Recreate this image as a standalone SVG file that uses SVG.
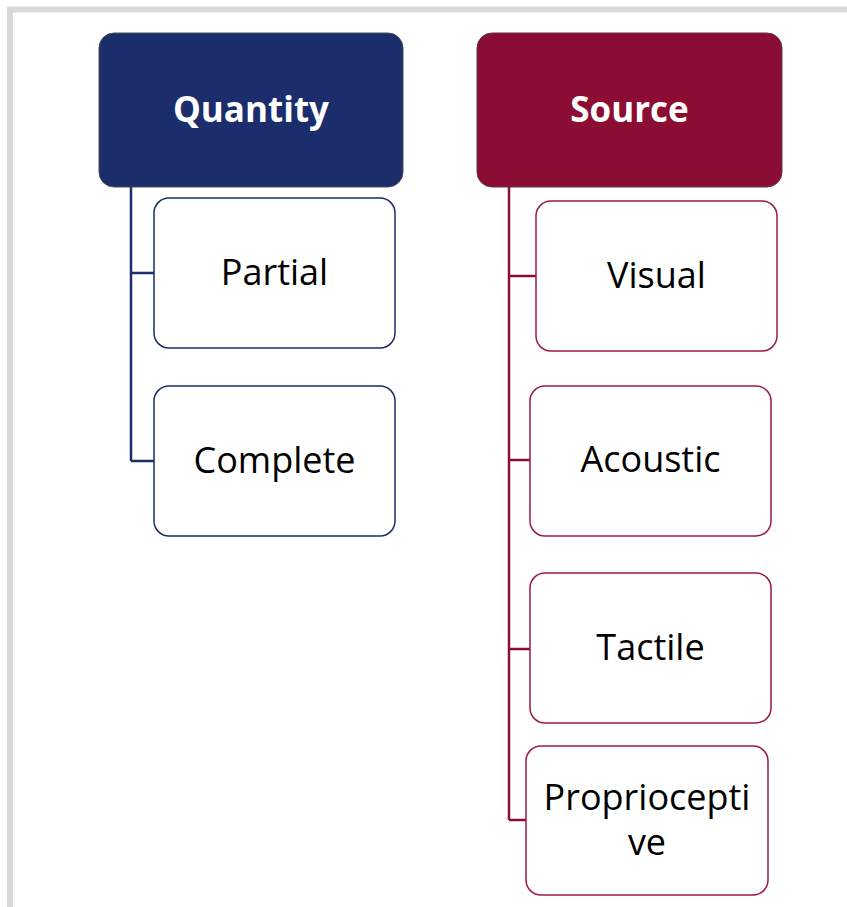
<svg xmlns="http://www.w3.org/2000/svg" width="847" height="907" viewBox="0 0 847 907">
  <style>
    .frame { fill: none; stroke: #d9d9d9; stroke-width: 6; }
    .head-q { fill: #1b2d6b; stroke: #4a4a5a; stroke-width: 1; }
    .head-s { fill: #8c0d33; stroke: #5a3a44; stroke-width: 1; }
    .child-q { fill: #ffffff; stroke: #1b2d6b; stroke-width: 1.5; }
    .child-s { fill: #ffffff; stroke: #9c1a44; stroke-width: 1.5; }
    .head-text { font-family: "Open Sans", "Noto Sans", sans-serif; font-weight: bold; font-size: 35px; fill: #ffffff; text-anchor: middle; }
    .child-text { font-family: "Open Sans", "Noto Sans", sans-serif; font-size: 36px; fill: #000000; text-anchor: middle; }
    .conn-q { fill: none; stroke: #1b2d6b; stroke-width: 2.5; }
    .conn-s { fill: none; stroke: #8c0d33; stroke-width: 2.5; }
  </style>

  <rect x="0" y="0" width="847" height="907" fill="#ffffff"/>
  <!-- outer frame -->
  <path class="frame" d="M10 907 V9.5 H847"/>

  <!-- connectors -->
  <g id="connectors">
    <path class="conn-q" d="M131 187 V461 M131 273 H154 M131 461 H154"/>
    <path class="conn-s" d="M509 187 V820 M509 276 H536 M509 460 H530 M509 649 H530 M509 820 H526"/>
  </g>

  <!-- Quantity branch -->
  <g id="quantity">
    <rect class="head-q" x="99" y="33" width="304" height="154" rx="15"/>
    <text class="head-text" x="251" y="122">Quantity</text>
  </g>
  <g id="partial">
    <rect class="child-q" x="154" y="198" width="241" height="150" rx="15"/>
    <text class="child-text" x="274.5" y="285">Partial</text>
  </g>
  <g id="complete">
    <rect class="child-q" x="154" y="386" width="241" height="150" rx="15"/>
    <text class="child-text" x="274.5" y="473">Complete</text>
  </g>

  <!-- Source branch -->
  <g id="source">
    <rect class="head-s" x="477" y="33" width="305" height="154" rx="15"/>
    <text class="head-text" x="629.5" y="122">Source</text>
  </g>
  <g id="visual">
    <rect class="child-s" x="536" y="201" width="241" height="150" rx="15"/>
    <text class="child-text" x="656.5" y="288">Visual</text>
  </g>
  <g id="acoustic">
    <rect class="child-s" x="530" y="386" width="241" height="150" rx="15"/>
    <text class="child-text" x="650.5" y="472">Acoustic</text>
  </g>
  <g id="tactile">
    <rect class="child-s" x="530" y="573" width="241" height="150" rx="15"/>
    <text class="child-text" x="650.5" y="660">Tactile</text>
  </g>
  <g id="proprioceptive">
    <rect class="child-s" x="526" y="746" width="242" height="149" rx="15"/>
    <text class="child-text" x="647" y="810">Propriocepti</text>
    <text class="child-text" x="647" y="855">ve</text>
  </g>
</svg>
